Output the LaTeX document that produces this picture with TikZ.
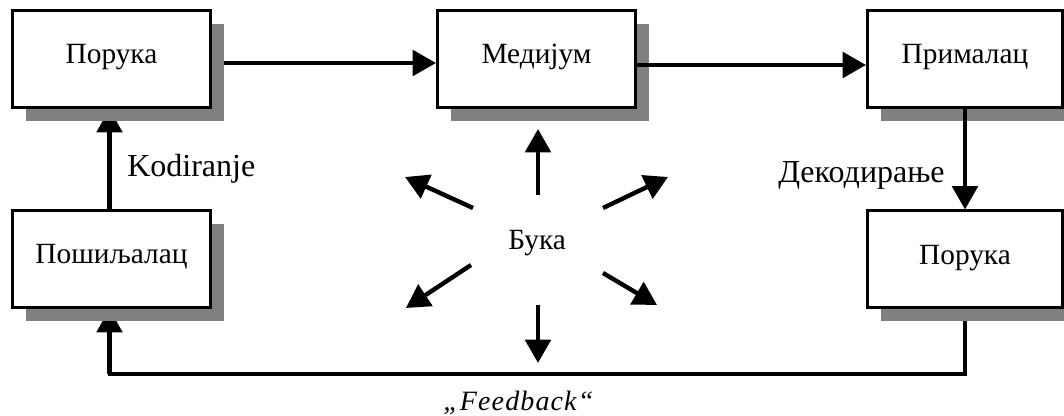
\documentclass[tikz,border=0pt]{standalone}
\usepackage{fontspec}
\setmainfont{Liberation Serif}
\usetikzlibrary{arrows.meta,shadows}
\pgfdeclarelayer{under}
\pgfsetlayers{under,main}
\definecolor{shade}{HTML}{808080}
\tikzset{
  box/.style={draw, line width=2.25pt, fill=white, inner sep=0pt,
    minimum width=148.5pt, minimum height=72.75pt,
    text height=10pt, text depth=2.5pt,
    font=\fontsize{22}{24}\selectfont,
    drop shadow={shadow xshift=10.1pt, shadow yshift=-10.1pt, fill=shade, opacity=1}},
  rbox/.style={box, minimum width=146.25pt},
  link/.style={line width=3.3pt, -{Triangle[length=17.5pt,width=19pt]}},
  wire/.style={line width=3pt},
  lbl/.style={font=\fontsize{24}{28}\selectfont, inner sep=0pt, anchor=base west},
}
\begin{document}
\begin{tikzpicture}[x=0.75pt, y=-0.75pt]
  \useasboundingbox (0,0) rectangle (1064,416);
  \clip (0,0) rectangle (1064,416);

  % boxes
  \node[box]  (msg1)   at (111.5,59)  {Порука};
  \node[box]  (medium) at (536.5,59)  {Медијум};
  \node[rbox] (recv)   at (965,59)    {Прималац};
  \node[box]  (sender) at (111.5,259) {Пошиљалац};
  \node[rbox] (msg2)   at (965,259.5) {Порука};

  % connectors that pass under the shadows
  \begin{pgfonlayer}{under}
    \draw[link] ([yshift=-3pt]msg1.east) -- ([yshift=-3pt]medium.west);
    \draw[link] ([xshift=-1.5pt]sender.north) -- ([xshift=-1.5pt]msg1.south);
    \coordinate (fbR) at (965,374);
    \coordinate (fbL) at (109.5,374);
    \draw[wire, line join=miter] (msg2.south) -- (fbR) -- (fbL)
      -- ([yshift=1.2pt]fbL |- sender.south);
    \draw[link] (fbL) -- (fbL |- sender.south);
  \end{pgfonlayer}

  % connectors drawn over the shadows
  \draw[link] ([yshift=-4.5pt]medium.east) -- ([yshift=-4.5pt]recv.west);
  \draw[link] (recv.south) -- (msg2.north);

  % labels
  \node[lbl] (enc) at (127,177) {Kodiranje};
  \node[lbl] (dec) at (778,182.5) {Декодирање};
  \node[font=\fontsize{22}{24}\selectfont, inner sep=0pt, anchor=base west]
    (noise) at (508,250) {Бука};
  \node[font=\fontsize{21}{24}\selectfont\itshape, inner sep=0pt, anchor=base west]
    (fb) at (443,411) {\addfontfeature{LetterSpace=4}„Feedback“};

  % noise arrows
  \coordinate (nU0) at (538,195);  \coordinate (nU1) at (538,129);
  \coordinate (nUL0) at (473,208); \coordinate (nUL1) at (405,177);
  \coordinate (nUR0) at (603,208); \coordinate (nUR1) at (668,177);
  \coordinate (nLL0) at (471,265); \coordinate (nLL1) at (406,308);
  \coordinate (nLR0) at (603,273); \coordinate (nLR1) at (657,305);
  \coordinate (nD0) at (538,305);  \coordinate (nD1) at (538,363);
  \foreach \a in {U,UL,UR,LL,LR,D}
    \draw[link] (n\a0) -- (n\a1);
\end{tikzpicture}
\end{document}
